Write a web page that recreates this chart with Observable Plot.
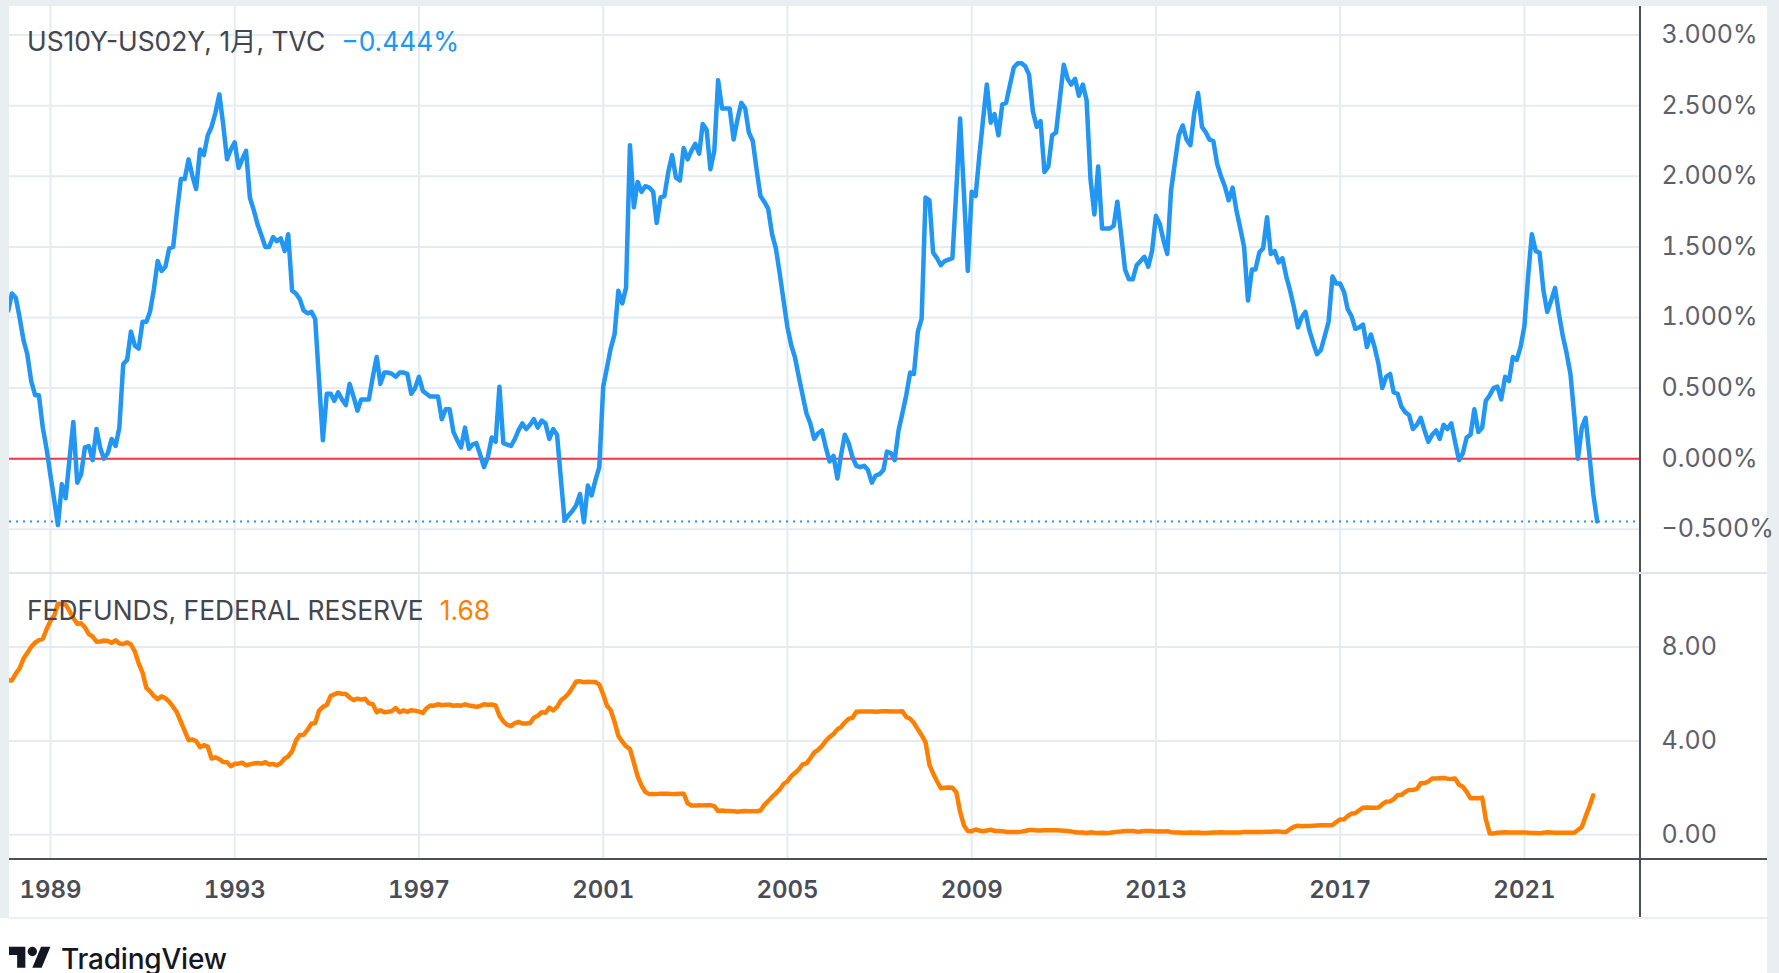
<!DOCTYPE html>
<html>
<head>
<meta charset="utf-8">
<script src="https://cdn.jsdelivr.net/npm/d3@7"></script>
<script src="https://cdn.jsdelivr.net/npm/@observablehq/plot@0.6"></script>
<style>
  html, body { margin: 0; padding: 0; background: #ffffff; }
  body { width: 1779px; height: 973px; position: relative; overflow: hidden;
         font-family: Inter, "Noto Sans CJK JP", sans-serif; }
  .abs { position: absolute; }
  .legend { position: absolute; white-space: nowrap; line-height: 1; font-size: 26.4px; color: #434651; }
</style>
</head>
<body>
<script>
// ---------------- DATA ----------------
// US10Y-US02Y monthly spread, %, one row per year (Jan..Dec), starting Jan 1988
const spreadMonthly = [
  /*1988*/ null, 1.05, 1.17, 1.14, 1.00, 0.84, 0.74, 0.55, 0.45, 0.45, 0.22, 0.07,
  /*1989*/ -0.12, -0.30, -0.47, -0.18, -0.28, 0.00, 0.26, -0.17, -0.11, 0.08, 0.09, -0.01,
  /*1990*/ 0.21, 0.07, 0.00, 0.04, 0.14, 0.09, 0.22, 0.67, 0.70, 0.90, 0.80, 0.78,
  /*1991*/ 0.97, 0.97, 1.04, 1.20, 1.40, 1.33, 1.36, 1.49, 1.50, 1.75, 1.98, 1.98,
  /*1992*/ 2.12, 2.00, 1.91, 2.19, 2.15, 2.29, 2.35, 2.45, 2.58, 2.37, 2.12, 2.19,
  /*1993*/ 2.24, 2.06, 2.12, 2.18, 1.85, 1.76, 1.66, 1.58, 1.50, 1.50, 1.57, 1.54,
  /*1994*/ 1.56, 1.47, 1.59, 1.19, 1.17, 1.13, 1.05, 1.03, 1.04, 0.99, 0.55, 0.13,
  /*1995*/ 0.46, 0.46, 0.41, 0.47, 0.42, 0.38, 0.53, 0.44, 0.34, 0.42, 0.42, 0.42,
  /*1996*/ 0.58, 0.72, 0.53, 0.61, 0.61, 0.60, 0.58, 0.61, 0.61, 0.60, 0.46, 0.50,
  /*1997*/ 0.58, 0.48, 0.46, 0.44, 0.44, 0.44, 0.28, 0.35, 0.35, 0.19, 0.13, 0.08,
  /*1998*/ 0.22, 0.07, 0.10, 0.11, 0.03, -0.06, 0.01, 0.15, 0.12, 0.51, 0.11, 0.10,
  /*1999*/ 0.09, 0.14, 0.20, 0.25, 0.21, 0.24, 0.28, 0.22, 0.27, 0.25, 0.14, 0.21,
  /*2000*/ 0.17, -0.15, -0.44, -0.40, -0.37, -0.33, -0.25, -0.45, -0.19, -0.26, -0.15, -0.06,
  /*2001*/ 0.51, 0.65, 0.78, 0.88, 1.19, 1.10, 1.21, 2.22, 1.78, 1.96, 1.89, 1.93,
  /*2002*/ 1.92, 1.89, 1.67, 1.85, 1.86, 2.03, 2.15, 1.99, 1.97, 2.20, 2.12, 2.18,
  /*2003*/ 2.23, 2.16, 2.37, 2.33, 2.05, 2.18, 2.68, 2.48, 2.48, 2.48, 2.26, 2.40,
  /*2004*/ 2.52, 2.48, 2.31, 2.25, 2.05, 1.86, 1.82, 1.77, 1.59, 1.49, 1.31, 1.12,
  /*2005*/ 0.93, 0.80, 0.72, 0.58, 0.45, 0.32, 0.25, 0.14, 0.18, 0.20, 0.08, -0.02,
  /*2006*/ 0.02, -0.14, 0.02, 0.17, 0.11, 0.01, -0.05, -0.06, -0.05, -0.08, -0.17, -0.12,
  /*2007*/ -0.11, -0.08, 0.05, 0.04, -0.01, 0.20, 0.32, 0.45, 0.61, 0.60, 0.90, 0.99,
  /*2008*/ 1.85, 1.83, 1.46, 1.42, 1.37, 1.40, 1.41, 1.42, 1.90, 2.41, 1.87, 1.33,
  /*2009*/ 1.89, 1.86, 2.13, 2.40, 2.65, 2.38, 2.44, 2.29, 2.51, 2.52, 2.65, 2.77,
  /*2010*/ 2.80, 2.80, 2.78, 2.72, 2.46, 2.35, 2.39, 2.03, 2.07, 2.29, 2.31, 2.55,
  /*2011*/ 2.79, 2.69, 2.65, 2.69, 2.57, 2.65, 2.54, 1.98, 1.73, 2.07, 1.63, 1.63,
  /*2012*/ 1.63, 1.65, 1.82, 1.58, 1.34, 1.27, 1.27, 1.37, 1.40, 1.43, 1.36, 1.47,
  /*2013*/ 1.72, 1.66, 1.55, 1.45, 1.90, 2.10, 2.29, 2.36, 2.26, 2.22, 2.45, 2.59,
  /*2014*/ 2.35, 2.31, 2.26, 2.25, 2.09, 2.00, 1.93, 1.83, 1.92, 1.76, 1.63, 1.50,
  /*2015*/ 1.12, 1.34, 1.34, 1.46, 1.49, 1.71, 1.45, 1.47, 1.39, 1.42, 1.29, 1.19,
  /*2016*/ 1.07, 0.93, 1.00, 1.04, 0.91, 0.82, 0.74, 0.77, 0.87, 0.97, 1.29, 1.24,
  /*2017*/ 1.24, 1.18, 1.06, 1.01, 0.92, 0.93, 0.95, 0.79, 0.88, 0.79, 0.67, 0.50,
  /*2018*/ 0.58, 0.60, 0.47, 0.46, 0.37, 0.33, 0.31, 0.21, 0.24, 0.29, 0.20, 0.12,
  /*2019*/ 0.17, 0.20, 0.14, 0.24, 0.21, 0.25, 0.12, -0.01, 0.04, 0.15, 0.17, 0.35,
  /*2020*/ 0.19, 0.22, 0.41, 0.45, 0.50, 0.51, 0.42, 0.58, 0.55, 0.72, 0.70, 0.79,
  /*2021*/ 0.94, 1.31, 1.59, 1.47, 1.46, 1.19, 1.04, 1.12, 1.21, 1.03, 0.87, 0.75,
  /*2022*/ 0.60, 0.30, 0.00, 0.22, 0.29, 0.02, -0.25, -0.444
];

// FEDFUNDS monthly, %, starting Jan 1988
const fedFundsMonthly = [
  /*1988*/ 6.83, 6.58, 6.58, 6.87, 7.09, 7.51, 7.75, 8.01, 8.19, 8.30, 8.35, 8.76,
  /*1989*/ 9.12, 9.36, 9.85, 9.84, 9.81, 9.53, 9.24, 8.99, 9.02, 8.84, 8.55, 8.45,
  /*1990*/ 8.23, 8.24, 8.28, 8.26, 8.18, 8.29, 8.15, 8.13, 8.20, 8.11, 7.81, 7.31,
  /*1991*/ 6.91, 6.25, 6.12, 5.91, 5.78, 5.90, 5.82, 5.66, 5.45, 5.21, 4.81, 4.43,
  /*1992*/ 4.03, 4.06, 3.98, 3.73, 3.82, 3.76, 3.25, 3.30, 3.22, 3.10, 3.09, 2.92,
  /*1993*/ 3.02, 3.03, 3.07, 2.96, 3.00, 3.04, 3.06, 3.03, 3.09, 2.99, 3.02, 2.96,
  /*1994*/ 3.05, 3.25, 3.34, 3.56, 4.01, 4.25, 4.26, 4.47, 4.73, 4.76, 5.29, 5.45,
  /*1995*/ 5.53, 5.92, 5.98, 6.05, 6.01, 6.00, 5.85, 5.74, 5.80, 5.76, 5.80, 5.60,
  /*1996*/ 5.56, 5.22, 5.31, 5.22, 5.24, 5.27, 5.40, 5.22, 5.30, 5.24, 5.31, 5.29,
  /*1997*/ 5.25, 5.19, 5.39, 5.51, 5.50, 5.56, 5.52, 5.54, 5.54, 5.50, 5.52, 5.50,
  /*1998*/ 5.56, 5.51, 5.49, 5.45, 5.49, 5.56, 5.54, 5.55, 5.51, 5.07, 4.83, 4.68,
  /*1999*/ 4.63, 4.76, 4.81, 4.74, 4.74, 4.76, 4.99, 5.07, 5.22, 5.20, 5.42, 5.30,
  /*2000*/ 5.45, 5.73, 5.85, 6.02, 6.27, 6.53, 6.54, 6.50, 6.52, 6.51, 6.51, 6.40,
  /*2001*/ 5.98, 5.49, 5.31, 4.80, 4.21, 3.97, 3.77, 3.65, 3.07, 2.49, 2.09, 1.82,
  /*2002*/ 1.73, 1.74, 1.73, 1.75, 1.75, 1.75, 1.73, 1.74, 1.75, 1.75, 1.34, 1.24,
  /*2003*/ 1.24, 1.26, 1.25, 1.26, 1.26, 1.22, 1.01, 1.03, 1.01, 1.01, 1.00, 0.98,
  /*2004*/ 1.00, 1.01, 1.00, 1.00, 1.00, 1.03, 1.26, 1.43, 1.61, 1.76, 1.93, 2.16,
  /*2005*/ 2.28, 2.50, 2.63, 2.79, 3.00, 3.04, 3.26, 3.50, 3.62, 3.78, 4.00, 4.16,
  /*2006*/ 4.29, 4.49, 4.59, 4.79, 4.94, 4.99, 5.24, 5.25, 5.25, 5.25, 5.25, 5.24,
  /*2007*/ 5.25, 5.26, 5.26, 5.25, 5.25, 5.25, 5.26, 5.02, 4.94, 4.76, 4.49, 4.24,
  /*2008*/ 3.94, 2.98, 2.61, 2.28, 1.98, 2.00, 2.01, 2.00, 1.81, 0.97, 0.39, 0.16,
  /*2009*/ 0.15, 0.22, 0.18, 0.15, 0.18, 0.21, 0.16, 0.16, 0.15, 0.12, 0.12, 0.12,
  /*2010*/ 0.11, 0.13, 0.16, 0.20, 0.20, 0.18, 0.18, 0.19, 0.19, 0.19, 0.19, 0.18,
  /*2011*/ 0.17, 0.16, 0.14, 0.10, 0.09, 0.09, 0.07, 0.10, 0.08, 0.07, 0.08, 0.07,
  /*2012*/ 0.08, 0.10, 0.13, 0.14, 0.16, 0.16, 0.16, 0.13, 0.14, 0.16, 0.16, 0.16,
  /*2013*/ 0.14, 0.15, 0.14, 0.15, 0.11, 0.09, 0.09, 0.08, 0.08, 0.09, 0.08, 0.09,
  /*2014*/ 0.07, 0.07, 0.08, 0.09, 0.09, 0.10, 0.09, 0.09, 0.09, 0.09, 0.09, 0.12,
  /*2015*/ 0.11, 0.11, 0.11, 0.12, 0.12, 0.13, 0.13, 0.14, 0.14, 0.12, 0.12, 0.24,
  /*2016*/ 0.34, 0.38, 0.36, 0.37, 0.37, 0.38, 0.39, 0.40, 0.40, 0.40, 0.41, 0.54,
  /*2017*/ 0.65, 0.66, 0.79, 0.90, 0.91, 1.04, 1.15, 1.16, 1.15, 1.15, 1.16, 1.30,
  /*2018*/ 1.41, 1.42, 1.51, 1.69, 1.70, 1.82, 1.91, 1.91, 1.95, 2.19, 2.20, 2.27,
  /*2019*/ 2.40, 2.40, 2.41, 2.42, 2.39, 2.38, 2.40, 2.13, 2.04, 1.83, 1.55, 1.55,
  /*2020*/ 1.55, 1.58, 0.65, 0.05, 0.05, 0.08, 0.09, 0.10, 0.09, 0.09, 0.09, 0.09,
  /*2021*/ 0.09, 0.08, 0.07, 0.07, 0.06, 0.08, 0.10, 0.09, 0.08, 0.08, 0.08, 0.08,
  /*2022*/ 0.08, 0.08, 0.20, 0.33, 0.77, 1.21, 1.68
];

const seriesStartYear = 1988;
const yearTickLabels = [1989, 1993, 1997, 2001, 2005, 2009, 2013, 2017, 2021];
const spreadTicks = [3.0, 2.5, 2.0, 1.5, 1.0, 0.5, 0.0, -0.5];
const fedTicks = [8, 4, 0];
const spreadTitle = "US10Y-US02Y, 1月, TVC";
const spreadLastLabel = "−0.444%";
const fedTitle = "FEDFUNDS, FEDERAL RESERVE";
const fedLastLabel = "1.68";

// ---------------- BUILD ----------------
const monthDate = i => new Date(Date.UTC(seriesStartYear, i, 1));
const spreadData = spreadMonthly.map((v, i) => ({date: monthDate(i), value: v})).filter(d => d.value != null);
const fedData = fedFundsMonthly.map((v, i) => ({date: monthDate(i), value: v}));
const lastSpread = spreadData[spreadData.length - 1].value;
const yearTicks = yearTickLabels.map(y => new Date(Date.UTC(y, 0, 1)));

function decYear(v) {
  const y = Math.floor(v);
  const a = Date.UTC(y, 0, 1), b = Date.UTC(y + 1, 0, 1);
  return new Date(a + (v - y) * (b - a));
}
const xDomain = [decYear(1988.112), decYear(2023.522)];

const BLUE = "#2196f3", ORANGE = "#ff8000", GRID = "#e6ebf1", RED = "#f23645";
const fmtPct = d => (d < 0 ? "−" : "") + Math.abs(d).toFixed(3) + "%";
const W = 1758;
const baseStyle = {background: "transparent", fontFamily: "Inter, sans-serif", fontSize: "25px", color: "#5d606b", overflow: "visible"};

const p1 = Plot.plot({
  width: W, height: 567,
  marginLeft: 0, marginRight: 127, marginTop: 0, marginBottom: 0,
  style: baseStyle,
  x: {type: "utc", domain: xDomain, axis: null},
  y: {domain: [-0.813, 3.2025]},
  marks: [
    Plot.gridX(yearTicks, {stroke: GRID, strokeOpacity: 1, strokeWidth: 2}),
    Plot.gridY(spreadTicks, {stroke: GRID, strokeOpacity: 1, strokeWidth: 2}),
    Plot.ruleY([0], {stroke: RED, strokeWidth: 2}),
    Plot.ruleY([lastSpread], {stroke: BLUE, strokeWidth: 2, strokeDasharray: "2 5"}),
    Plot.line(spreadData, {x: "date", y: "value", stroke: BLUE, strokeWidth: 4.5, clip: true, strokeLinejoin: "round"}),
    Plot.axisY(spreadTicks, {anchor: "right", tickSize: 0, tickPadding: 21, tickFormat: fmtPct, label: null})
  ]
});

const p2 = Plot.plot({
  width: W, height: 345,
  marginLeft: 0, marginRight: 127, marginTop: 0, marginBottom: 59,
  style: baseStyle,
  x: {type: "utc", domain: xDomain},
  y: {domain: [-1.058, 11.138]},
  marks: [
    Plot.gridX(yearTicks, {stroke: GRID, strokeOpacity: 1, strokeWidth: 2}),
    Plot.gridY(fedTicks, {stroke: GRID, strokeOpacity: 1, strokeWidth: 2}),
    Plot.line(fedData, {x: "date", y: "value", stroke: ORANGE, strokeWidth: 4.5, clip: true, strokeLinejoin: "round"}),
    Plot.axisY(fedTicks, {anchor: "right", tickSize: 0, tickPadding: 21, tickFormat: d => d.toFixed(2), label: null}),
    Plot.axisX(yearTicks, {anchor: "bottom", tickSize: 0, tickPadding: 21, tickFormat: d => String(d.getUTCFullYear()),
      label: null, fontSize: 24, fontWeight: 600, fill: "#4a4d57"})
  ]
});

// ---------------- LAYOUT ----------------
function box(css) { const d = document.createElement("div"); d.className = "abs"; d.style.cssText = css; document.body.appendChild(d); return d; }

// outer light frame
box("left:0;top:0;width:1779px;height:6px;background:#e9eef0;");
box("left:0;top:0;width:9px;height:918px;background:#e9eef0;");
box("left:1767px;top:0;width:12px;height:973px;background:#e9eef0;");

p1.style.position = "absolute"; p1.style.left = "9px"; p1.style.top = "6px";
p2.style.position = "absolute"; p2.style.left = "9px"; p2.style.top = "573px";
document.body.appendChild(p1);
document.body.appendChild(p2);

// pane / axis borders
box("left:1639px;top:6px;width:2px;height:912px;background:#4a4e59;");
box("left:9px;top:858px;width:1758px;height:2px;background:#4a4e59;");
box("left:9px;top:572px;width:1758px;height:2px;background:#e0e3eb;");
box("left:9px;top:917px;width:1758px;height:2px;background:#eceff2;");

// legends
const l1 = document.createElement("div"); l1.className = "legend";
l1.style.cssText += "left:27px;top:28px;";
l1.innerHTML = `<span>${spreadTitle}</span><span style="color:${BLUE};margin-left:16px">${spreadLastLabel}</span>`;
document.body.appendChild(l1);
const l2 = document.createElement("div"); l2.className = "legend";
l2.style.cssText += "left:27px;top:597px;";
l2.innerHTML = `<span>${fedTitle}</span><span style="color:${ORANGE};margin-left:16px">${fedLastLabel}</span>`;
document.body.appendChild(l2);

// TradingView mark
const logo = document.createElement("div"); logo.className = "abs";
logo.style.cssText = "left:9px;top:942px;display:flex;align-items:flex-start;";
logo.innerHTML = `<svg width="42" height="33" viewBox="0 0 36 28"><path fill="#131722" d="M14 22H7V11H0V4h14v18zM28 22h-8l7.5-18h8L28 22z"/><circle fill="#131722" cx="20" cy="8" r="4"/></svg>
<span style="margin-left:10px;margin-top:3px;font-size:28px;font-weight:500;color:#131722;line-height:1;letter-spacing:-0.2px">TradingView</span>`;
document.body.appendChild(logo);
</script>
</body>
</html>
